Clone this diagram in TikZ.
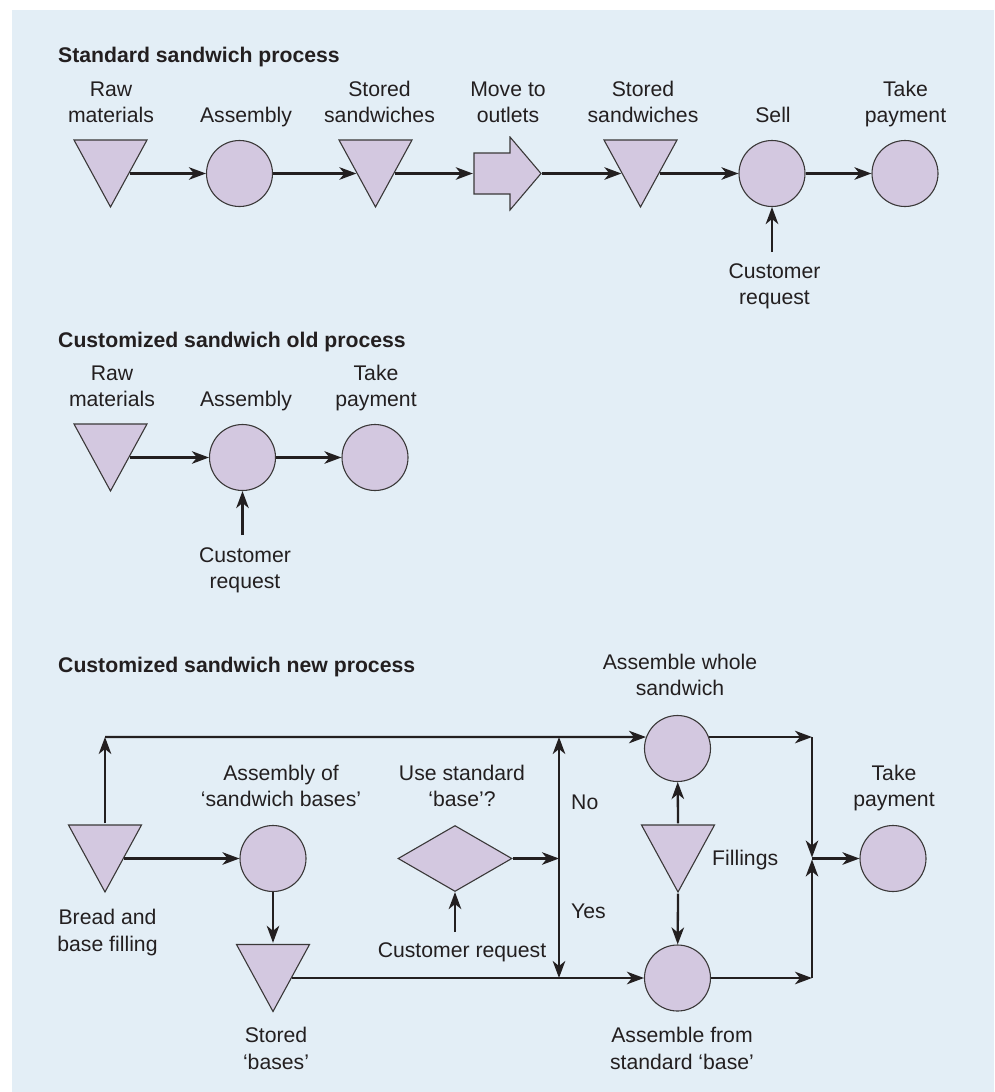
\documentclass[tikz,border=0pt]{standalone}
\usepackage{fontspec}
\setmainfont{Liberation Sans}
\usepackage{tikz}
\usetikzlibrary{arrows.meta,calc,shapes.geometric}

\definecolor{panelblue}{HTML}{E3EEF6}
\definecolor{lilac}{HTML}{D3C8E0}
\definecolor{edgegray}{HTML}{3A3838}
\definecolor{ink}{HTML}{231F20}

\begin{document}
\begin{tikzpicture}[
    x=1pt, y=-1pt,
    every node/.style = {text=ink},
    op/.style = {
        circle,
        draw=edgegray,
        fill=lilac,
        line width=1.1pt,
        minimum size=66pt,
        inner sep=0pt
    },
    decide/.style = {
        diamond,
        draw=edgegray,
        fill=lilac,
        line width=1.1pt,
        minimum width=114pt,
        minimum height=66pt,
        inner sep=0pt
    },
    store/.style = {
        rectangle,
        inner sep=0pt,
        minimum width=76pt,
        minimum height=70pt,
        path picture={
            \draw[draw=edgegray, fill=lilac, line width=1.1pt]
                ([xshift=1.5pt,yshift=-1.5pt]path picture bounding box.north west)
                -- ([xshift=-1.5pt,yshift=-1.5pt]path picture bounding box.north east)
                -- ([yshift=1.5pt]path picture bounding box.south) -- cycle;
        }
    },
    move/.style = {
        rectangle,
        inner sep=0pt,
        minimum width=69pt,
        minimum height=75pt,
        path picture={
            \draw[draw=edgegray, fill=lilac, line width=1.1pt]
                ([xshift=1pt,yshift=20.5pt]path picture bounding box.west)
                -- ([xshift=37pt,yshift=20.5pt]path picture bounding box.west)
                -- ([xshift=37pt,yshift=36.5pt]path picture bounding box.west)
                -- ([xshift=-1pt]path picture bounding box.east)
                -- ([xshift=37pt,yshift=-36.5pt]path picture bounding box.west)
                -- ([xshift=37pt,yshift=-20.5pt]path picture bounding box.west)
                -- ([xshift=1pt,yshift=-20.5pt]path picture bounding box.west) -- cycle;
        }
    },
    lbl/.style = {font=\fontsize{21.2}{26.5}\selectfont, align=center, inner sep=0pt, text depth=0pt},
    heading/.style = {font=\fontsize{21.2}{26.5}\selectfont\bfseries, inner sep=0pt, anchor=north west},
    flow/.style = {-{Stealth[length=17pt,width=12.5pt,inset=5pt]}, line width=2.3pt, draw=ink},
    line join=miter
]

\def\rowA{173.5}
\def\rowB{457.5}
\def\midC{858.5}

\fill[panelblue] (12,10) rectangle (994,1092);
\useasboundingbox (0,0) rectangle (994,1092);

% standard process
\node[heading] (headA) at (58,47) {Standard sandwich process};

\node[store] (rawA)  at (110.5,\rowA) {};
\node[op]    (asmA)  at (239.5,\rowA) {};
\node[store] (keepA) at (375.5,\rowA) {};
\node[move]  (shipA) at (507.5,\rowA) {};
\node[store] (keepB) at (640.5,\rowA) {};
\node[op]    (sellA) at (772,\rowA) {};
\node[op]    (payA)  at (905,\rowA) {};

\node[lbl, anchor=south] (rawAlbl)  at (111,123)   {Raw\\materials};
\node[lbl, anchor=south] (asmAlbl)  at (246,123)   {Assembly};
\node[lbl, anchor=south] (keepAlbl) at (379.5,123) {Stored\\sandwiches};
\node[lbl, anchor=south] (shipAlbl) at (508,123)   {Move to\\outlets};
\node[lbl, anchor=south] (keepBlbl) at (643,123)   {Stored\\sandwiches};
\node[lbl, anchor=south] (sellAlbl) at (773,123)   {Sell};
\node[lbl, anchor=south] (payAlbl)  at (905.5,123) {Take\\payment};
\node[lbl, anchor=north] (custA)    at (774.5,263) {Customer\\request};

\draw[flow] ($(rawA.center)!.5!(rawA.east)$) -- (asmA);
\draw[flow] (asmA) -- ($(keepA.center)!.5!(keepA.west)$);
\draw[flow] ($(keepA.center)!.5!(keepA.east)$) -- (shipA.west);
\draw[flow] (shipA.east) -- ($(keepB.center)!.5!(keepB.west)$);
\draw[flow] ($(keepB.center)!.5!(keepB.east)$) -- (sellA);
\draw[flow] (sellA) -- (payA);
\draw[flow, shorten <=11pt] (custA.north -| sellA) -- (sellA);

% old customized process
\node[heading] (headB) at (58,332) {Customized sandwich old process};

\node[store] (rawB) at (110.5,\rowB) {};
\node[op]    (asmB) at (242.5,\rowB) {};
\node[op]    (payB) at (375,\rowB) {};

\node[lbl, anchor=south] (rawBlbl) at (112,407) {Raw\\materials};
\node[lbl, anchor=south] (asmBlbl) at (246,407) {Assembly};
\node[lbl, anchor=south] (payBlbl) at (376,407) {Take\\payment};
\node[lbl, anchor=north] (custB)   at (245,547) {Customer\\request};

\draw[flow] ($(rawB.center)!.5!(rawB.east)$) -- (asmB);
\draw[flow] (asmB) -- (payB);
\draw[flow, shorten <=12pt] (custB.north -| asmB) -- (asmB);

% new customized process
\node[heading] (headC) at (58,657) {Customized sandwich new process};

\node[store]  (breadC)  at (105,\midC) {};
\node[op]     (basesC)  at (273,\midC) {};
\node[store]  (storedC) at (273,978) {};
\node[decide] (useC)    at (455,\midC) {};
\node[op]     (wholeC)  at (677.5,748.5) {};
\node[store]  (fillC)   at (678,\midC) {};
\node[op]     (stdC)    at (677.5,978) {};
\node[op]     (payC)    at (893,\midC) {};

\coordinate (bend)  at (105,737);
\coordinate (split) at (559,\midC);
\coordinate (join)  at (812,\midC);

\node[lbl, anchor=south] (basesClbl)  at (281,807)    {Assembly of\\‘sandwich bases’};
\node[lbl, anchor=south] (useClbl)    at (462,807)    {Use standard\\‘base’?};
\node[lbl, anchor=south] (wholeClbl)  at (680,696)    {Assemble whole\\sandwich};
\node[lbl, anchor=south] (payClbl)    at (894,807)    {Take\\payment};
\node[lbl, anchor=north] (breadClbl)  at (107.5,909)  {Bread and\\base filling};
\node[lbl, anchor=north] (storedClbl) at (276,1027)   {Stored\\‘bases’};
\node[lbl, anchor=north] (stdClbl)    at (682,1027)   {Assemble from\\standard ‘base’};
\node[lbl, anchor=base west] (noC)    at (571,809)    {No};
\node[lbl, anchor=base west] (yesC)   at (571,918)    {Yes};
\node[lbl, anchor=base west] (fillClbl) at (712,865)  {Fillings};
\node[lbl, anchor=base] (custC)       at (462,957)    {Customer request};

\draw[flow] (breadC.north) -- (bend);
\draw[flow] (bend) -- (wholeC.160);
\draw[flow] ($(breadC.center)!.5!(breadC.east)$) -- (basesC);
\draw[flow] (basesC) -- (storedC.north);
\draw[flow] ($(storedC.center)!.5!(storedC.east)$) -- (stdC);
\draw[flow] (useC) -- (split);
\draw[flow] (split) -- (split |- bend);
\draw[flow] (split) -- (split |- stdC);
\draw[flow, shorten <=10pt] (custC.north -| useC) -- (useC);
\draw[flow] (fillC.north) -- (wholeC);
\draw[flow] (fillC.south) -- (stdC);
\draw[flow] (wholeC.20) -- (wholeC.20 -| join);
\draw[flow, shorten >=1pt] (wholeC.20 -| join) -- (join);
\draw[flow] (stdC) -- (stdC -| join);
\draw[flow, shorten >=1pt] (stdC -| join) -- (join);
\draw[flow] (join) -- (payC);

\end{tikzpicture}
\end{document}
